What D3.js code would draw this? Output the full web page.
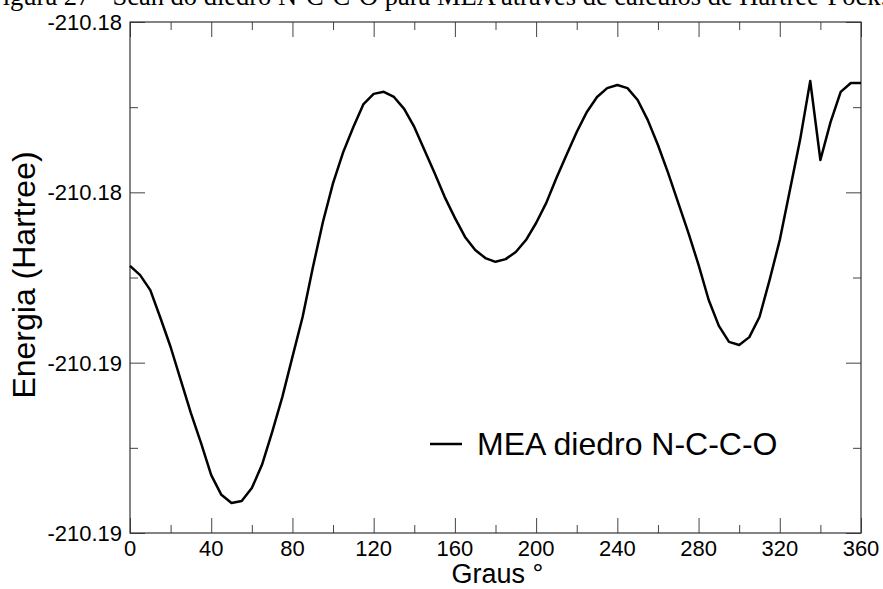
<!DOCTYPE html>
<html>
<head>
<meta charset="utf-8">
<script src="https://cdn.jsdelivr.net/npm/d3@7"></script>
<style>
    body { margin: 0; background: #fff; }
    svg { display: block; }
</style>
</head>
<body>
<div id="chart"></div>
<script>
// scan of the N-C-C-O dihedral, energies in Hartree
let angles = [0, 5, 10, 15, 20, 25, 30, 35, 40, 45, 50, 55, 60, 65, 70, 75, 80, 85, 90,
    95, 100, 105, 110, 115, 120, 125, 130, 135, 140, 145, 150, 155, 160, 165, 170, 175, 180,
    185, 190, 195, 200, 205, 210, 215, 220, 225, 230, 235, 240, 245, 250, 255, 260, 265, 270,
    275, 280, 285, 290, 295, 300, 305, 310, 315, 320, 325, 330, 335, 340, 345, 350, 355, 360];

let energies = [-210.18216, -210.18243, -210.18287, -210.18369, -210.18454, -210.18551,
    -210.18648, -210.18736, -210.18830, -210.18888, -210.18912, -210.18906, -210.18868,
    -210.18800, -210.18704, -210.18601, -210.18483, -210.18366, -210.18222, -210.18087,
    -210.17973, -210.17882, -210.17808, -210.17741, -210.17711, -210.17705, -210.17720,
    -210.17755, -210.17808, -210.17876, -210.17943, -210.18014, -210.18075, -210.18131,
    -210.18169, -210.18193, -210.18204, -210.18196, -210.18175, -210.18140, -210.18090,
    -210.18031, -210.17958, -210.17890, -210.17823, -210.17764, -210.17720, -210.17694,
    -210.17685, -210.17694, -210.17729, -210.17788, -210.17861, -210.17943, -210.18031,
    -210.18119, -210.18213, -210.18316, -210.18392, -210.18439, -210.18448, -210.18425,
    -210.18366, -210.18257, -210.18140, -210.17993, -210.17846, -210.17673, -210.17905,
    -210.17794, -210.17705, -210.17679, -210.17679];

let xMajorTicks = [0, 40, 80, 120, 160, 200, 240, 280, 320, 360];
let xMinorTicks = [20, 60, 100, 140, 180, 220, 260, 300, 340];
let yMajorTicks = [-210.19, -210.185, -210.18, -210.175];
let yTickLabels = ["-210.19", "-210.19", "-210.18", "-210.18"];
let yMinorTicks = [-210.1875, -210.1825, -210.1775];

let caption = "Figura 27 - Scan do diedro N-C-C-O para MEA através de cálculos de Hartree-Fock.";
let seriesName = "MEA diedro N-C-C-O";

let width = 883, height = 589;
let margin = {top: 22, right: 22, bottom: 56, left: 130};

let svg = d3.select("#chart").append("svg")
    .attr("width", width)
    .attr("height", height);

let xScale = d3.scaleLinear()
    .domain([0, 360])
    .range([margin.left, width - margin.right]);

let yScale = d3.scaleLinear()
    .domain([-210.19, -210.175])
    .range([height - margin.bottom, margin.top]);

// caption, cut off at the top of the page
svg.append("text")
    .attr("x", -12)
    .attr("y", 5)
    .style("font-family", "'Liberation Serif', 'Times New Roman', serif")
    .style("font-size", "26.5px")
    .text(caption);

let sans = "'Liberation Sans', Arial, Helvetica, sans-serif";
let tickColor = "#444";

// ticks pointing inward on all four sides
function drawTicks(g, axis, values, size) {
    g.call(axis.tickValues(values).tickSize(-size).tickFormat(""))
        .call(s => s.select(".domain").remove())
        .call(s => s.selectAll("line").attr("stroke", tickColor));
}

let plotH = yScale.range()[0] - yScale.range()[1];
let plotW = xScale.range()[1] - xScale.range()[0];

let gBottom = svg.append("g").attr("transform", "translate(0," + yScale.range()[0] + ")");
drawTicks(gBottom.append("g"), d3.axisBottom(xScale), xMajorTicks, 15);
drawTicks(gBottom.append("g"), d3.axisBottom(xScale), xMinorTicks, 8);

let gTop = svg.append("g").attr("transform", "translate(0," + yScale.range()[1] + ")");
drawTicks(gTop.append("g"), d3.axisTop(xScale), xMajorTicks, 15);
drawTicks(gTop.append("g"), d3.axisTop(xScale), xMinorTicks, 8);

let gLeft = svg.append("g").attr("transform", "translate(" + xScale.range()[0] + ",0)");
drawTicks(gLeft.append("g"), d3.axisLeft(yScale), yMajorTicks, 15);
drawTicks(gLeft.append("g"), d3.axisLeft(yScale), yMinorTicks, 8);

let gRight = svg.append("g").attr("transform", "translate(" + xScale.range()[1] + ",0)");
drawTicks(gRight.append("g"), d3.axisRight(yScale), yMajorTicks, 15);
drawTicks(gRight.append("g"), d3.axisRight(yScale), yMinorTicks, 8);

// frame
svg.append("rect")
    .attr("x", xScale.range()[0])
    .attr("y", yScale.range()[1])
    .attr("width", plotW)
    .attr("height", plotH)
    .attr("fill", "none")
    .attr("stroke", "#333")
    .attr("stroke-width", 1.2);

// tick labels
svg.append("g").selectAll("text").data(xMajorTicks).enter().append("text")
    .attr("x", d => xScale(d))
    .attr("y", yScale.range()[0] + 23)
    .attr("text-anchor", "middle")
    .style("font-family", sans)
    .style("font-size", "22px")
    .text(d => d);

svg.append("g").selectAll("text").data(yMajorTicks).enter().append("text")
    .attr("x", xScale.range()[0] - 8)
    .attr("y", d => yScale(d) + 8)
    .attr("text-anchor", "end")
    .style("font-family", sans)
    .style("font-size", "22px")
    .text((d, i) => yTickLabels[i]);

// axis titles
svg.append("text")
    .attr("x", (xScale.range()[0] + xScale.range()[1]) / 2 + 2)
    .attr("y", height - 6)
    .attr("text-anchor", "middle")
    .style("font-family", sans)
    .style("font-size", "27px")
    .text("Graus °");

svg.append("text")
    .attr("transform", "translate(35,275) rotate(-90)")
    .attr("text-anchor", "middle")
    .style("font-family", sans)
    .style("font-size", "32px")
    .text("Energia (Hartree)");

// the scan curve
let line = d3.line()
    .x((d, i) => xScale(angles[i]))
    .y(d => yScale(d));

svg.append("path")
    .datum(energies)
    .attr("d", line)
    .attr("fill", "none")
    .attr("stroke", "#000")
    .attr("stroke-width", 2.5)
    .attr("stroke-linejoin", "round");

// legend
let legend = svg.append("g").attr("transform", "translate(430,444)");
legend.append("line")
    .attr("x1", 0).attr("x2", 32)
    .attr("y1", 0).attr("y2", 0)
    .attr("stroke", "#000")
    .attr("stroke-width", 2.5);
legend.append("text")
    .attr("x", 47)
    .attr("y", 11)
    .style("font-family", sans)
    .style("font-size", "32px")
    .text(seriesName);
</script>
</body>
</html>
